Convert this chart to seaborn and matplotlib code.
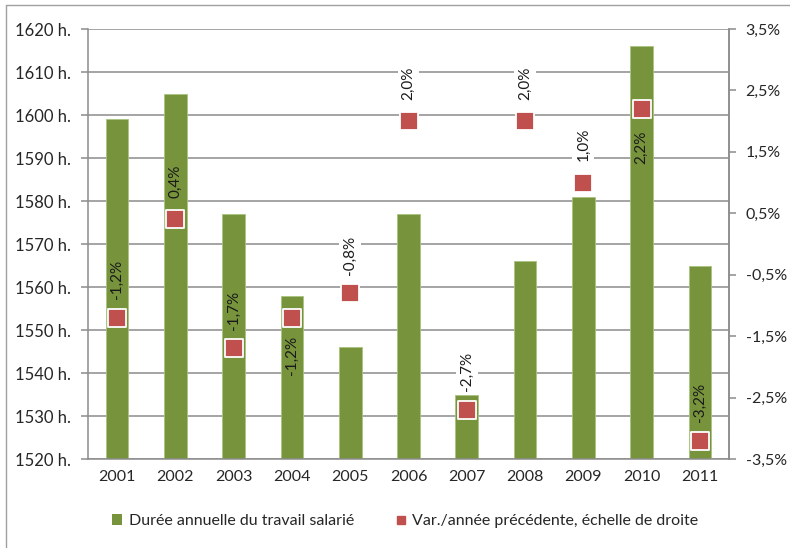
import numpy as np
import pandas as pd
import matplotlib
matplotlib.use("Agg")
import matplotlib.pyplot as plt
import seaborn as sns
from matplotlib.lines import Line2D
from matplotlib.patches import Patch

years = ["2001", "2002", "2003", "2004", "2005", "2006", "2007", "2008", "2009", "2010", "2011"]
hours = [1599, 1605, 1577, 1558, 1546, 1577, 1535, 1566, 1581, 1616, 1565]
var_pct = [-1.2, 0.4, -1.7, -1.2, -0.8, 2.0, -2.7, 2.0, 1.0, 2.2, -3.2]
label_side = [1, 1, 1, -1, 1, 1, 1, 1, 1, -1, 1]
left_ticks = [1520, 1530, 1540, 1550, 1560, 1570, 1580, 1590, 1600, 1610, 1620]
right_ticks = [-3.5, -2.5, -1.5, -0.5, 0.5, 1.5, 2.5, 3.5]
series_names = ["Durée annuelle du travail salarié", "Var./année précédente, échelle de droite"]

GREEN = "#77933C"
RED = "#C0504D"
GRID = "#8C8C8C"

sns.set_theme(style="white")
plt.rcParams["font.family"] = ["Lato", "DejaVu Sans"]

fig = plt.figure(figsize=(7.9, 5.48), dpi=100)
ax = fig.add_axes([88 / 790, 1 - 459 / 548, (729 - 88) / 790, (459 - 29) / 548])

df = pd.DataFrame({"year": years, "hours": hours, "var": var_pct})
sns.barplot(data=df, x="year", y="hours", color=GREEN, saturation=1, width=0.39,
            edgecolor="#A9C47F", linewidth=0.6, ax=ax, zorder=2)
ax.set_ylim(1520, 1620)
ax.set_xlim(-0.5, len(years) - 0.5)
ax.set_yticks(left_ticks)
ax.set_yticklabels([f"{t} h." for t in left_ticks], fontsize=12)
ax.yaxis.grid(True, color=GRID, linewidth=1.1, zorder=0)
ax.set_axisbelow(True)
ax.set_xlabel("")
ax.set_ylabel("")
ax.tick_params(axis="x", length=0, labelsize=11.5, pad=8)
ax.set_xticks(np.arange(-0.5, len(years), 1.0), minor=True)
ax.tick_params(axis="x", which="minor", length=5, color=GRID, width=1.1)
ax.tick_params(axis="y", length=5, color=GRID, width=1.1, left=True, pad=7)
ax.spines["top"].set_visible(False)
for s in ["left", "bottom", "right"]:
    ax.spines[s].set_color(GRID)
    ax.spines[s].set_linewidth(1.1)

ax2 = ax.twinx()
sns.scatterplot(x=np.arange(len(years)), y=var_pct, marker="s", s=150, color=RED,
                edgecolor="white", linewidth=1.3, ax=ax2, zorder=5, legend=False)
ax2.set_ylim(-3.5, 3.5)
ax2.set_yticks(right_ticks)
ax2.set_yticklabels([f"{t:.1f}%".replace(".", ",") for t in right_ticks], fontsize=11.5)
ax2.tick_params(axis="y", length=5, color=GRID, width=1.1, right=True, pad=7)
ax2.spines["top"].set_visible(False)
ax2.spines["right"].set_color(GRID)
ax2.spines["right"].set_linewidth(1.1)
ax2.spines["left"].set_visible(False)
ax2.spines["bottom"].set_visible(False)
ax2.set_ylabel("")

# data labels
fig.canvas.draw()
for i, (v, side, h) in enumerate(zip(var_pct, label_side, hours)):
    txt = f"{v:.1f}%".replace(".", ",")
    px = ax2.transData.transform((i, v))
    ly = px[1] + side * 38
    ly_data = ax.transData.inverted().transform((px[0], ly))[1]
    inside = ly_data < h
    bbox = None if inside else dict(boxstyle="square,pad=0.25", fc="white", ec="none")
    ax2.annotate(txt, xy=(i, v), xytext=(0, side * 38 * 72 / 100), textcoords="offset points",
                 rotation=90, ha="center", va="center", fontsize=11, color="#1a1a1a",
                 bbox=bbox, zorder=6)

handles = [Patch(facecolor=GREEN, edgecolor="none"),
           Line2D([], [], marker="s", linestyle="none", markersize=5.5, color=RED)]
fig.legend(handles, series_names, loc="center", bbox_to_anchor=(405 / 790, 1 - 521 / 548),
           ncol=2, frameon=False, fontsize=11.5, handlelength=0.65, handleheight=0.65,
           handletextpad=0.4, columnspacing=2.6)

# figure border (top and left)
fig.add_artist(Line2D([6 / 790, 6 / 790], [0, 1 - 5 / 548], transform=fig.transFigure, color="#A0A0A0", linewidth=1))
fig.add_artist(Line2D([6 / 790, 1], [1 - 5 / 548, 1 - 5 / 548], transform=fig.transFigure, color="#A0A0A0", linewidth=1))

fig.savefig("out.png", dpi=100)
